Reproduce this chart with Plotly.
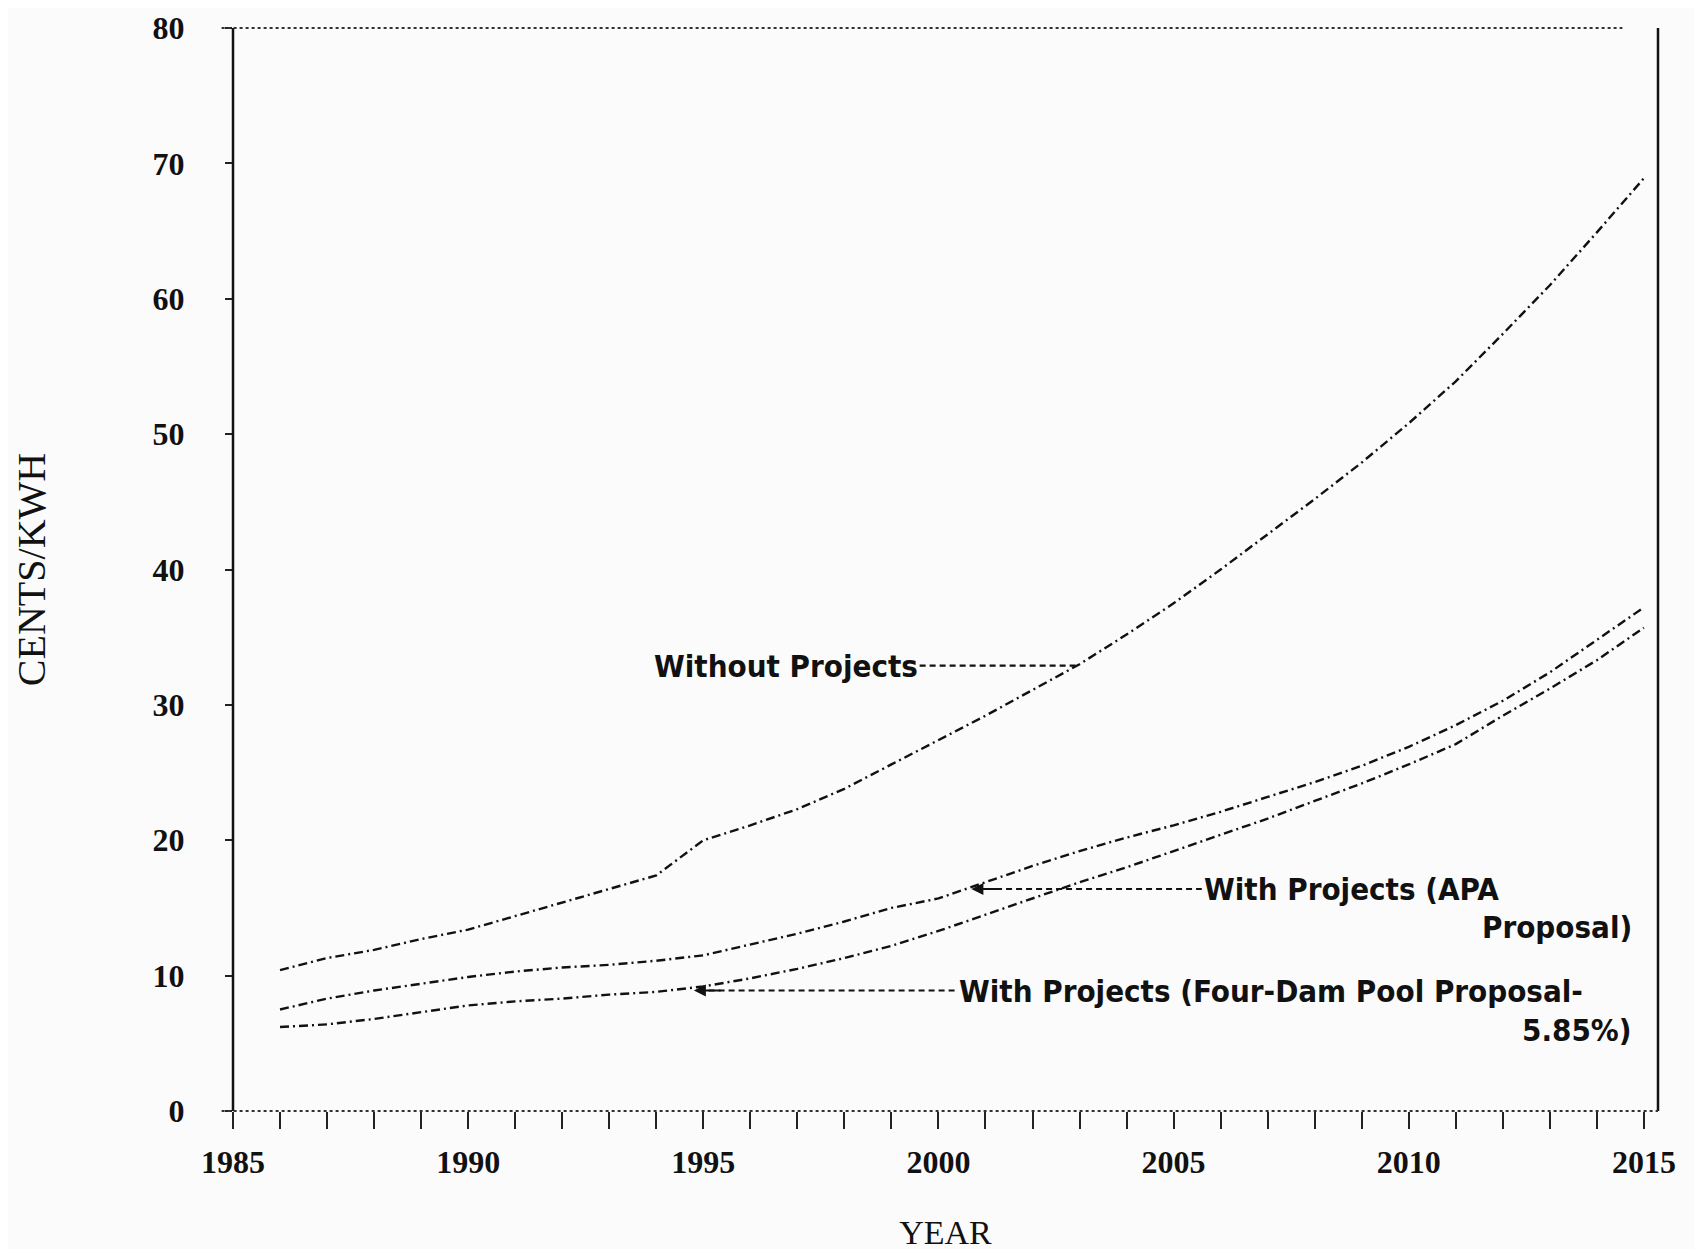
import plotly.graph_objects as go

years = list(range(1986, 2016))
without_projects = [10.4, 11.3, 11.9, 12.7, 13.4, 14.4, 15.4, 16.4, 17.4, 20.0,
                    21.1, 22.3, 23.8, 25.6, 27.4, 29.2, 31.1, 33.0, 35.2, 37.5,
                    40.0, 42.6, 45.2, 47.9, 50.8, 53.9, 57.4, 61.0, 64.9, 68.9]
apa_proposal = [7.5, 8.3, 8.9, 9.4, 9.9, 10.3, 10.6, 10.8, 11.1, 11.5,
                12.3, 13.1, 14.0, 15.0, 15.7, 16.9, 18.1, 19.2, 20.2, 21.1,
                22.1, 23.2, 24.3, 25.5, 26.9, 28.5, 30.3, 32.4, 34.8, 37.2]
four_dam = [6.2, 6.4, 6.8, 7.3, 7.8, 8.1, 8.3, 8.6, 8.8, 9.2,
            9.8, 10.5, 11.3, 12.2, 13.3, 14.5, 15.7, 16.9, 18.0, 19.2,
            20.4, 21.6, 22.9, 24.2, 25.6, 27.1, 29.2, 31.2, 33.3, 35.7]
x_ticks = [1985, 1990, 1995, 2000, 2005, 2010, 2015]
y_ticks = [0, 10, 20, 30, 40, 50, 60, 70, 80]

SERIF = "Liberation Serif, DejaVu Serif, serif"
NARROW = "Liberation Sans Narrow, DejaVu Sans Condensed, Arial Narrow, sans-serif"
dash = "9px,4px,2px,4px"

fig = go.Figure()
for name, vals in [("Without Projects", without_projects),
                   ("With Projects (APA Proposal)", apa_proposal),
                   ("With Projects (Four-Dam Pool Proposal-5.85%)", four_dam)]:
    fig.add_trace(go.Scatter(x=years, y=vals, mode="lines", name=name,
                             line=dict(color="#111", width=2.4, dash=dash),
                             showlegend=False))

# frame: solid left/right, dotted top/bottom
fig.add_shape(type="line", xref="paper", yref="paper", x0=0, x1=0, y0=0, y1=1,
              line=dict(color="#111", width=2.5))
fig.add_shape(type="line", xref="paper", yref="paper", x0=1, x1=1, y0=0, y1=1,
              line=dict(color="#111", width=2.5))
fig.add_shape(type="line", xref="paper", yref="paper", x0=-0.008, x1=0.975, y0=1, y1=1,
              line=dict(color="#333", width=2, dash="dot"))
fig.add_shape(type="line", xref="paper", yref="paper", x0=-0.008, x1=1, y0=0, y1=0,
              line=dict(color="#333", width=2, dash="dot"))

# leader lines to the curves
leader = dict(color="#111", width=2.2, dash="6px,4px")
fig.add_shape(type="line", x0=1999.6, x1=2003.0, y0=32.9, y1=32.9, line=leader)
fig.add_shape(type="line", x0=2000.8, x1=2005.6, y0=16.4, y1=16.4, line=leader)
fig.add_shape(type="line", x0=1994.9, x1=2000.4, y0=8.9, y1=8.9, line=leader)

text_font = dict(family=NARROW, size=31, color="#111")
fig.add_annotation(x=1999.6, y=32.9, text="<b>Without Projects</b>", showarrow=False,
                   xanchor="right", yanchor="middle", font=text_font)
fig.add_annotation(x=2005.6, y=16.4, text="<b>With Projects (APA</b>", showarrow=False,
                   xanchor="left", yanchor="middle", font=text_font)
fig.add_annotation(x=2014.8, y=13.6, text="<b>Proposal)</b>", showarrow=False,
                   xanchor="right", yanchor="middle", font=text_font)
fig.add_annotation(x=2000.4, y=8.9, text="<b>With Projects (Four-Dam Pool Proposal-</b>",
                   showarrow=False, xanchor="left", yanchor="middle", font=text_font)
fig.add_annotation(x=2014.8, y=6.0, text="<b>5.85%)</b>", showarrow=False,
                   xanchor="right", yanchor="middle", font=text_font)
# small arrowheads at the curve ends of the leaders
for (xa, ya) in [(2000.7, 16.4), (1994.8, 8.9)]:
    fig.add_annotation(x=xa, y=ya, ax=xa + 0.6, ay=ya, axref="x", ayref="y",
                       text="", showarrow=True, arrowhead=2, arrowsize=1.2,
                       arrowwidth=2, arrowcolor="#111")

fig.update_xaxes(range=[1985, 2015.3], tickvals=x_ticks,
                 ticktext=[str(v) for v in x_ticks],
                 ticks="outside", ticklen=17, tickwidth=2, tickcolor="#222",
                 minor=dict(dtick=1, tick0=1985, ticks="outside", ticklen=17,
                            tickwidth=2, tickcolor="#222"),
                 showgrid=False, zeroline=False, showline=False, automargin=False,
                 tickfont=dict(family=SERIF, size=32, color="#111", weight="bold"),
                 ticklabelstandoff=6, ticklabeloverflow="allow",
                 title=dict(text="YEAR", font=dict(family=SERIF, size=34, color="#111"),
                            standoff=40))
fig.update_yaxes(range=[0, 80], tickvals=y_ticks,
                 ticktext=[str(v) for v in y_ticks],
                 ticks="outside", ticklen=7, tickwidth=2, tickcolor="#222",
                 showgrid=False, zeroline=False, showline=False, automargin=False,
                 tickfont=dict(family=SERIF, size=32, color="#111", weight="bold"),
                 ticklabelstandoff=34, ticklabeloverflow="allow",
                 title=dict(text="CENTS/KWH", font=dict(family=SERIF, size=40, color="#111"),
                            standoff=94))

fig.update_layout(width=1702, height=1249,
                  margin=dict(l=225, r=52, t=20, b=146),
                  paper_bgcolor="#fbfbfb", plot_bgcolor="#fbfbfb",
                  font=dict(family=SERIF, color="#111"))

fig.write_html("out.html")
